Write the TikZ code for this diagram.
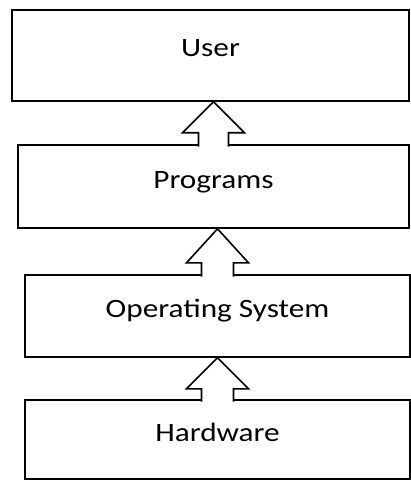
\documentclass[tikz,border=0pt]{standalone}
\usepackage{fontspec}
\newfontfamily\boxfont{Carlito}[FakeStretch=1.18]
\usetikzlibrary{calc}

\begin{document}
\begin{tikzpicture}[
  x=1pt, y=-1pt,
  every node/.style={font=\boxfont\fontsize{26.5}{30}\selectfont},
  layer/.style={
    rectangle, draw, line width=1.6pt,
    text height=0.65em, text depth=0.35em,
    inner sep=0pt
  },
  blockarr/.style={draw, fill=white, line width=1.6pt}
]
\useasboundingbox (0,0) rectangle (411,481);

% layers, top to bottom
\node[layer, minimum width=397pt, minimum height=91pt] (user) at (210.5, 55.5)  {User};
\node[layer, minimum width=391pt, minimum height=83pt] (prog) at (213.5, 186.5) {Programs};
\node[layer, minimum width=385pt, minimum height=82pt] (os)   at (217.5, 316)   {Operating System};
\node[layer, minimum width=385pt, minimum height=79pt] (hw)   at (217.5, 439.5) {Hardware};

% hollow arrows (open at the bottom, drawn over the lower box's top line)
\coordinate (tip1) at (prog.north |- user.south);
\draw[blockarr] ($(prog.north)+(-15,2.5)$) -- ($(tip1)+(-15,31)$) -- ($(tip1)+(-31,31)$)
  -- (tip1) -- ($(tip1)+(31,31)$) -- ($(tip1)+(15,31)$) -- ($(prog.north)+(15,2.5)$);

\coordinate (tip2) at (os.north |- prog.south);
\draw[blockarr] ($(os.north)+(-16,2.5)$) -- ($(tip2)+(-16,34)$) -- ($(tip2)+(-31,34)$)
  -- (tip2) -- ($(tip2)+(31,34)$) -- ($(tip2)+(16,34)$) -- ($(os.north)+(16,2.5)$);

\coordinate (tip3) at (hw.north |- os.south);
\draw[blockarr] ($(hw.north)+(-16,2.5)$) -- ($(tip3)+(-16,31)$) -- ($(tip3)+(-31,31)$)
  -- (tip3) -- ($(tip3)+(31,31)$) -- ($(tip3)+(16,31)$) -- ($(hw.north)+(16,2.5)$);

\end{tikzpicture}
\end{document}
